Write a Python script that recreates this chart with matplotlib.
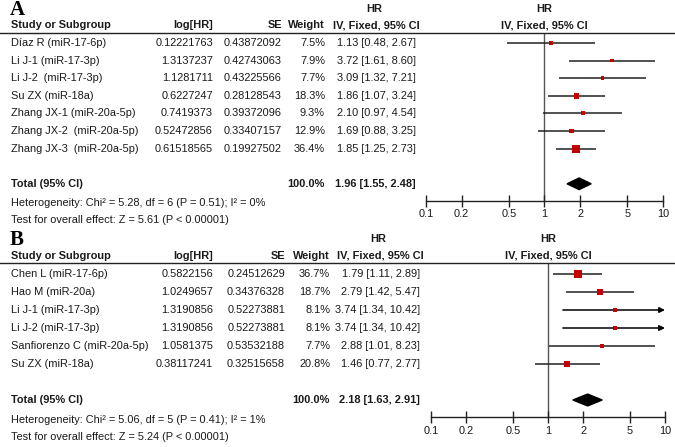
import matplotlib
matplotlib.use("Agg")
import matplotlib.pyplot as plt
from matplotlib import font_manager
from matplotlib.transforms import blended_transform_factory
from matplotlib.lines import Line2D

# panel A data
studies_a = ["Díaz R (miR-17-6p)", "Li J-1 (miR-17-3p)", "Li J-2  (miR-17-3p)",
             "Su ZX (miR-18a)", "Zhang JX-1 (miR-20a-5p)", "Zhang JX-2  (miR-20a-5p)",
             "Zhang JX-3  (miR-20a-5p)"]
loghr_a = ["0.12221763", "1.3137237", "1.1281711", "0.6227247", "0.7419373",
           "0.52472856", "0.61518565"]
se_a = ["0.43872092", "0.42743063", "0.43225566", "0.28128543", "0.39372096",
        "0.33407157", "0.19927502"]
weight_a = [7.5, 7.9, 7.7, 18.3, 9.3, 12.9, 36.4]
hr_a = [1.13, 3.72, 3.09, 1.86, 2.10, 1.69, 1.85]
lo_a = [0.48, 1.61, 1.32, 1.07, 0.97, 0.88, 1.25]
hi_a = [2.67, 8.60, 7.21, 3.24, 4.54, 3.25, 2.73]
total_a = (1.96, 1.55, 2.48)
het_a = "Heterogeneity: Chi² = 5.28, df = 6 (P = 0.51); I² = 0%"
test_a = "Test for overall effect: Z = 5.61 (P < 0.00001)"

# panel B data
studies_b = ["Chen L (miR-17-6p)", "Hao M (miR-20a)", "Li J-1 (miR-17-3p)",
             "Li J-2 (miR-17-3p)", "Sanfiorenzo C (miR-20a-5p)", "Su ZX (miR-18a)"]
loghr_b = ["0.5822156", "1.0249657", "1.3190856", "1.3190856", "1.0581375", "0.38117241"]
se_b = ["0.24512629", "0.34376328", "0.52273881", "0.52273881", "0.53532188", "0.32515658"]
weight_b = [36.7, 18.7, 8.1, 8.1, 7.7, 20.8]
hr_b = [1.79, 2.79, 3.74, 3.74, 2.88, 1.46]
lo_b = [1.11, 1.42, 1.34, 1.34, 1.01, 0.77]
hi_b = [2.89, 5.47, 10.42, 10.42, 8.23, 2.77]
total_b = (2.18, 1.63, 2.91)
het_b = "Heterogeneity: Chi² = 5.06, df = 5 (P = 0.41); I² = 1%"
test_b = "Test for overall effect: Z = 5.24 (P < 0.00001)"

ticks = [0.1, 0.2, 0.5, 1, 2, 5, 10]
tick_labels = ["0.1", "0.2", "0.5", "1", "2", "5", "10"]

names = {f.name for f in font_manager.fontManager.ttflist}
if "Liberation Sans Narrow" in names:
    FONT, FS = "Liberation Sans Narrow", 8.6
else:
    FONT, FS = "Liberation Sans", 7.9
TXT = "#1a1a1a"

W, H = 675, 447
fig = plt.figure(figsize=(W / 100, H / 100), dpi=100)


def panel(letter, studies, loghr, se, weight, hr, lo, hi, total, het, test,
          x_left, x_right, y_line, y_row0, dy, col_log, col_se, col_w, col_ci):
    n = len(studies)
    tot_row = n + 1
    y_axis = y_row0 + (tot_row + 0.97) * dy
    ax = fig.add_axes([x_left / W, 1 - y_axis / H, (x_right - x_left) / W,
                       (y_axis - y_line) / H])
    ax.set_xscale("log")
    ax.set_xlim(0.1, 10)
    ax.set_ylim((y_axis - y_row0) / dy, (y_line - y_row0) / dy)
    for s in ["top", "left", "right"]:
        ax.spines[s].set_visible(False)
    ax.spines["bottom"].set_color("#222")
    ax.spines["bottom"].set_linewidth(1.0)
    ax.set_yticks([])
    ax.set_xticks(ticks)
    ax.set_xticklabels(tick_labels, fontfamily=FONT, fontsize=FS, color=TXT)
    ax.minorticks_off()
    ax.tick_params(axis="x", direction="inout", length=8, width=1, color="#222", pad=2)
    ax.patch.set_alpha(0)

    ax.axvline(1, color="#555555", lw=1.0, zorder=1)
    rows = list(range(n))
    for r, l, h in zip(rows, lo, hi):
        if h > 10:
            ax.annotate("", xy=(10, r), xytext=(l, r),
                        arrowprops=dict(arrowstyle="-|>", color="black", lw=1.1,
                                        mutation_scale=8, shrinkA=0, shrinkB=0))
        else:
            ax.hlines(r, l, h, color="#222", lw=1.1, zorder=2)
    ax.scatter(hr, rows, marker="s", s=[0.88 * w for w in weight],
               color="#c40000", linewidths=0, zorder=3)
    est, tl, th = total
    ax.fill([tl, est, th, est], [tot_row, tot_row - 0.33, tot_row, tot_row + 0.33],
            color="black", zorder=3)

    tr = blended_transform_factory(fig.transFigure, ax.transData)
    kw = dict(transform=tr, fontfamily=FONT, fontsize=FS, color=TXT, va="center")
    bold = dict(kw, fontweight="bold")

    # headers
    fig.text(10 / W, -1.9, letter, transform=tr, fontfamily="Liberation Serif",
             fontsize=15, fontweight="bold", va="center", color="black")
    fig.text(11 / W, -1.02, "Study or Subgroup", **bold)
    fig.text(col_log / W, -1.02, "log[HR]", ha="right", **bold)
    fig.text(col_se / W, -1.02, "SE", ha="right", **bold)
    fig.text(col_w / W, -1.02, "Weight", ha="right", **bold)
    fig.text((col_ci - 42) / W, -1.95, "HR", ha="center", **bold)
    fig.text((col_ci - 40) / W, -1.02, "IV, Fixed, 95% CI", ha="center", **bold)
    ax.text(1, -1.95, "HR", ha="center", va="center", fontfamily=FONT, fontsize=FS,
            fontweight="bold", color=TXT, clip_on=False)
    ax.text(1, -1.02, "IV, Fixed, 95% CI", ha="center", va="center", fontfamily=FONT,
            fontsize=FS, fontweight="bold", color=TXT, clip_on=False)
    fig.add_artist(Line2D([0, 1], [(y_line - y_row0) / dy] * 2, transform=tr,
                          color="#222", lw=1.0))

    for i in range(n):
        fig.text(11 / W, i, studies[i], **kw)
        fig.text(col_log / W, i, loghr[i], ha="right", **kw)
        fig.text(col_se / W, i, se[i], ha="right", **kw)
        fig.text(col_w / W, i, f"{weight[i]:.1f}%", ha="right", **kw)
        fig.text(col_ci / W, i, f"{hr[i]:.2f} [{lo[i]:.2f}, {hi[i]:.2f}]", ha="right", **kw)

    fig.text(11 / W, tot_row, "Total (95% CI)", **bold)
    fig.text(col_w / W, tot_row, "100.0%", ha="right", **bold)
    fig.text(col_ci / W, tot_row, f"{est:.2f} [{tl:.2f}, {th:.2f}]", ha="right", **bold)
    fig.text(11 / W, tot_row + 1.1, het, **kw)
    fig.text(11 / W, tot_row + 2.05, test, **kw)
    return ax


panel("A", studies_a, loghr_a, se_a, weight_a, hr_a, lo_a, hi_a, total_a, het_a, test_a,
      426, 663, 33, 43, 17.6, 213, 282, 325, 416)
panel("B", studies_b, loghr_b, se_b, weight_b, hr_b, lo_b, hi_b, total_b, het_b, test_b,
      431, 665, 263, 274, 18.0, 213, 285, 330, 420)

fig.savefig("out.png", dpi=100)
